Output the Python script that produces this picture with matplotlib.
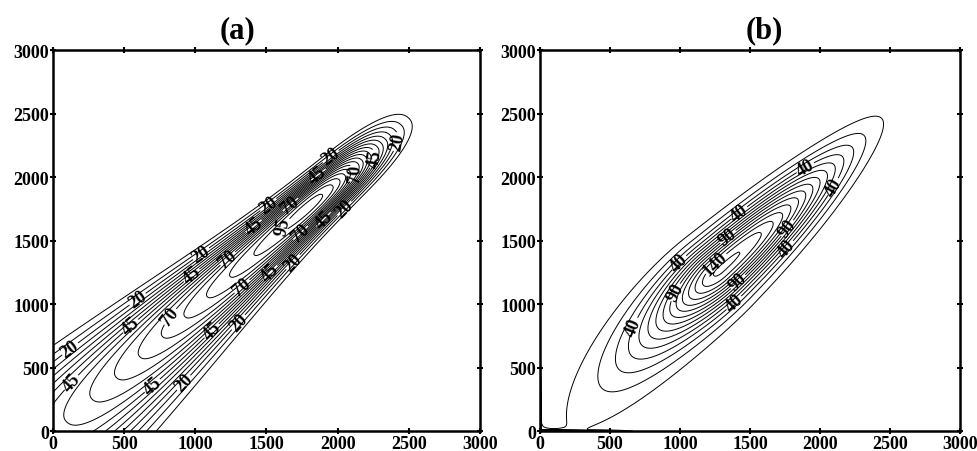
import numpy as np
import matplotlib.pyplot as plt

plt.rcParams['font.family'] = ['Liberation Serif', 'DejaVu Serif']
plt.rcParams['font.weight'] = 'bold'

# contour levels and which of them get a number
levels_a = list(range(10, 100, 5))
labels_a = [20, 45, 70, 95]
levels_b = list(range(10, 160, 10))
labels_b = [40, 90, 140]

# ridge parameters
# peak: x, y, height
# along: lower scale, lower power, lower smoothing, upper scale, upper power
# across: width at origin, width change per unit, min width, power
# bend: lower, upper
peak_a = [1760, 1730, 97.5]
along_a = [3168, 1.35, 0, 759, 2.6]
across_a = [430, -0.1465, 150, 2.3]
bend_a = [0.0, 0.0]

peak_b = [1290, 1270, 152]
along_b = [600, 1.18, 300, 1110, 2.5]
across_b = [288, -0.0485, 80, 2.0]
bend_b = [-4e-5, 1.2e-5]
edge_b = [300, 176]   # spike along the axes at small x / y

# where the numbers sit on the lines
label_pos_a = [(166, 580), (166, 344), (658, 409), (892, 409), (564, 803),
               (611, 1013), (845, 882), (1092, 816), (1291, 869), (986, 1210),
               (1033, 1407), (1232, 1354), (1314, 1157), (1513, 1262),
               (1689, 1328), (1408, 1617), (1501, 1800), (1607, 1617),
               (1666, 1787), (1736, 1565), (1899, 1669), (2040, 1761),
               (1853, 2024), (1947, 2168), (2110, 2037), (2263, 2142),
               (2391, 2286)]
label_pos_b = [(654, 827), (989, 1331), (964, 1094), (1345, 1526),
               (1271, 1299), (1417, 1173), (1381, 1015), (1440, 1695),
               (1729, 1630), (1741, 1459), (1907, 2050), (2062, 1945)]

ticks = [0, 500, 1000, 1500, 2000, 2500, 3000]


def ridge(x, y, peak, along, across, bend):
    x0, y0, amp = peak
    a_lo, p_lo, c_lo, a_hi, p_hi = along
    w0, w_slope, w_min, q = across
    k_lo, k_hi = bend
    r2 = np.sqrt(2)
    u = (x + y) / r2
    v = (y - x) / r2
    du = u - (x0 + y0) / r2
    lo = du < 0
    vc = (y0 - x0) / r2 + np.where(lo, k_lo, k_hi) * du ** 2
    s_lo = ((du ** 2 + c_lo ** 2) ** (p_lo / 2) - c_lo ** p_lo) / a_lo ** p_lo
    s_hi = (np.abs(du) / a_hi) ** p_hi
    s = np.where(lo, s_lo, s_hi)
    w = np.hypot(np.maximum(w0 + w_slope * u, 0), w_min)
    t = np.abs((v - vc) / w) ** q
    return amp * np.exp(-s - t)


def edge_spike(x, y, height, decay, eps=0.003):
    return height * (np.exp(-y / decay) * np.sqrt(eps / (x + eps))
                     + np.exp(-x / decay) * np.sqrt(eps / (y + eps)))


g = np.linspace(0, 3000, 301)
X, Y = np.meshgrid(g, g)
Za = ridge(X, Y, peak_a, along_a, across_a, bend_a)
Zb = ridge(X, Y, peak_b, along_b, across_b, bend_b) + edge_spike(X, Y, *edge_b)

fig = plt.figure(figsize=(9.77, 4.52), dpi=100)
ax_a = fig.add_axes([0.0542, 0.0442, 0.4371, 0.8429])
ax_b = fig.add_axes([0.5527, 0.0442, 0.4299, 0.8429])

panels = [(ax_a, Za, levels_a, labels_a, label_pos_a, '(a)', 0.431),
          (ax_b, Zb, levels_b, labels_b, label_pos_b, '(b)', 0.533)]

for ax, Z, levels, lab_levels, lab_pos, title, tx in panels:
    plain = [lv for lv in levels if lv not in lab_levels]
    ax.contour(X, Y, Z, levels=plain, colors='k', linewidths=0.7)
    cs = ax.contour(X, Y, Z, levels=lab_levels, colors='k', linewidths=0.7)
    ax.clabel(cs, manual=lab_pos, inline=True, inline_spacing=1,
              fmt='%d', fontsize=13)
    ax.set_xlim(0, 3000)
    ax.set_ylim(0, 3000)
    ax.set_xticks(ticks)
    ax.set_yticks(ticks)
    ax.tick_params(direction='inout', length=4, width=1.5, top=True, right=True,
                   labelsize=13, pad=1)
    for sp in ax.spines.values():
        sp.set_linewidth(1.8)
    ax.set_title(title, x=tx, fontsize=22, fontweight='bold', pad=9)

fig.savefig('out.png', dpi=100)
